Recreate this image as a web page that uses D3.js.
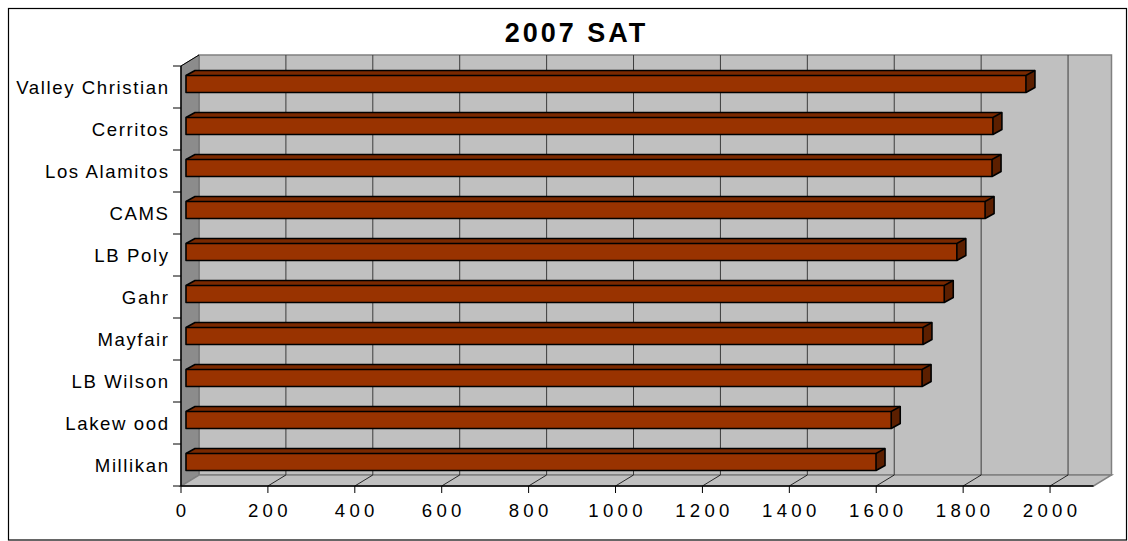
<!DOCTYPE html>
<html>
<head>
<meta charset="utf-8">
<script src="https://cdn.jsdelivr.net/npm/d3@7"></script>
<style>
	body { margin: 0; background: #fff; }
	text { font-family: 'Liberation Sans', Arial, sans-serif; fill: #000; }
</style>
</head>
<body>
<svg id="chart" width="1128" height="541"></svg>
<script>
const title = '2007 SAT';
const schools = ['Valley Christian', 'Cerritos', 'Los Alamitos', 'CAMS', 'LB Poly', 'Gahr', 'Mayfair', 'LB Wilson', 'Lakew ood', 'Millikan'];
const scores = [1933, 1857, 1855, 1839, 1774, 1745, 1696, 1694, 1623, 1588];
const xTicks = [0, 200, 400, 600, 800, 1000, 1200, 1400, 1600, 1800, 2000];
const xMax = 2100;

const svg = d3.select('#chart');

// depth of the 3d box, and of the bars inside it
const dx = 18, dy = -11;
const bx = 5, by = -3;
const bdx = 9, bdy = -5;

const x = d3.scaleLinear([0, xMax], [181, 1093.5]);
const y = d3.scaleBand(schools, [66, 486]);
const barH = 17;

svg.append('rect')
	.attr('x', 8.5).attr('y', 8.5)
	.attr('width', 1118).attr('height', 531.5)
	.style('fill', 'none')
	.style('stroke', '#000')
	.style('stroke-width', 1.2);

svg.append('text')
	.attr('x', 575 + 1.5)
	.attr('y', 42)
	.attr('text-anchor', 'middle')
	.style('font-size', '27px')
	.style('font-weight', 'bold')
	.style('letter-spacing', '3px')
	.text(title);

const [x0, x1] = x.range();
const [y0, y1] = y.range();
const poly = pts => `M${pts.join('L')}Z`;

// walls
svg.append('path')
	.attr('d', poly([[x0 + dx, y0 + dy], [x1 + dx, y0 + dy], [x1 + dx, y1 + dy], [x0 + dx, y1 + dy]]))
	.style('fill', '#c0c0c0')
	.style('stroke', '#808080')
	.style('stroke-width', 1.5);
svg.append('path')
	.attr('d', poly([[x0, y0], [x0 + dx, y0 + dy], [x0 + dx, y1 + dy], [x0, y1]]))
	.style('fill', '#8c8c8c')
	.style('stroke', '#6e6e6e')
	.style('stroke-width', 1);
svg.append('path')
	.attr('d', poly([[x0, y1], [x0 + dx, y1 + dy], [x1 + dx, y1 + dy], [x1, y1]]))
	.style('fill', '#c0c0c0')
	.style('stroke', '#808080')
	.style('stroke-width', 1.5);

// gridlines on back wall and floor
const grid = svg.append('g').attr('class', 'grid');
grid.selectAll('line.back')
	.data(xTicks.filter(d => d > 0))
	.join('line')
	.attr('class', 'back')
	.attr('x1', d => x(d) + dx).attr('x2', d => x(d) + dx)
	.attr('y1', y0 + dy).attr('y2', y1 + dy)
	.style('stroke', '#3c3c3c')
	.style('stroke-width', 1);
grid.selectAll('line.floor')
	.data(xTicks.filter(d => d > 0))
	.join('line')
	.attr('class', 'floor')
	.attr('x1', d => x(d)).attr('x2', d => x(d) + dx)
	.attr('y1', y1).attr('y2', y1 + dy)
	.style('stroke', '#000')
	.style('stroke-width', 0.8);

// bars
const bars = svg.append('g').attr('class', 'bars')
	.selectAll('g')
	.data(schools.map((s, i) => ({ name: s, value: scores[i] })))
	.join('g');

const fx0 = x(0) + bx;
const barTop = d => y(d.name) + y.bandwidth() / 2 + by - barH / 2;
const barBot = d => barTop(d) + barH;
const fx1 = d => x(d.value) + bx;

bars.append('path')
	.attr('d', d => poly([[fx0, barTop(d)], [fx0 + bdx, barTop(d) + bdy], [fx1(d) + bdx, barTop(d) + bdy], [fx1(d), barTop(d)]]))
	.style('fill', '#7a2900');
bars.append('path')
	.attr('d', d => poly([[fx1(d), barTop(d)], [fx1(d) + bdx, barTop(d) + bdy], [fx1(d) + bdx, barBot(d) + bdy], [fx1(d), barBot(d)]]))
	.style('fill', '#5c1f00');
bars.append('rect')
	.attr('x', fx0)
	.attr('y', d => barTop(d))
	.attr('width', d => fx1(d) - fx0)
	.attr('height', barH)
	.style('fill', '#993300');
bars.append('path')
	.attr('d', d => poly([[fx0, barBot(d)], [fx0, barTop(d)], [fx0 + bdx, barTop(d) + bdy], [fx1(d) + bdx, barTop(d) + bdy], [fx1(d) + bdx, barBot(d) + bdy], [fx1(d), barBot(d)]]))
	.style('fill', 'none')
	.style('stroke', '#000')
	.style('stroke-width', 1.6)
	.style('stroke-linejoin', 'round');
bars.append('path')
	.attr('d', d => `M${fx0},${barTop(d)}L${fx1(d)},${barTop(d)}L${fx1(d) + bdx},${barTop(d) + bdy}M${fx1(d)},${barTop(d)}L${fx1(d)},${barBot(d)}`)
	.style('fill', 'none')
	.style('stroke', '#000')
	.style('stroke-width', 1.6);

// axes on the front plane
const axes = svg.append('g').attr('class', 'axes');
axes.append('line')
	.attr('x1', x0).attr('x2', x1)
	.attr('y1', y1).attr('y2', y1)
	.style('stroke', '#000').style('stroke-width', 1.5);
axes.append('line')
	.attr('x1', x0).attr('x2', x0)
	.attr('y1', y0).attr('y2', y1)
	.style('stroke', '#000').style('stroke-width', 1.5);
axes.append('line')
	.attr('x1', x0).attr('x2', x0 + dx)
	.attr('y1', y0).attr('y2', y0 + dy)
	.style('stroke', '#000').style('stroke-width', 1);

axes.selectAll('line.ytick')
	.data(schools.map(s => y(s)).concat([y1]))
	.join('line')
	.attr('class', 'ytick')
	.attr('x1', x0 - 8).attr('x2', x0)
	.attr('y1', d => d).attr('y2', d => d)
	.style('stroke', '#000').style('stroke-width', 1);

axes.selectAll('line.xtick')
	.data(xTicks)
	.join('line')
	.attr('class', 'xtick')
	.attr('x1', d => x(d)).attr('x2', d => x(d))
	.attr('y1', y1).attr('y2', y1 + 7)
	.style('stroke', '#000').style('stroke-width', 1);

axes.selectAll('text.xlabel')
	.data(xTicks)
	.join('text')
	.attr('class', 'xlabel')
	.attr('x', d => x(d) + 2)
	.attr('y', 517)
	.attr('text-anchor', 'middle')
	.style('font-size', '18.6px')
	.style('letter-spacing', '4.3px')
	.text(d => d);

axes.selectAll('text.ylabel')
	.data(schools)
	.join('text')
	.attr('class', 'ylabel')
	.attr('x', 168 + 1.6)
	.attr('y', d => y(d) + y.bandwidth() / 2 + 7)
	.attr('text-anchor', 'end')
	.style('font-size', '18.6px')
	.style('letter-spacing', '1.6px')
	.text(d => d);
</script>
</body>
</html>
